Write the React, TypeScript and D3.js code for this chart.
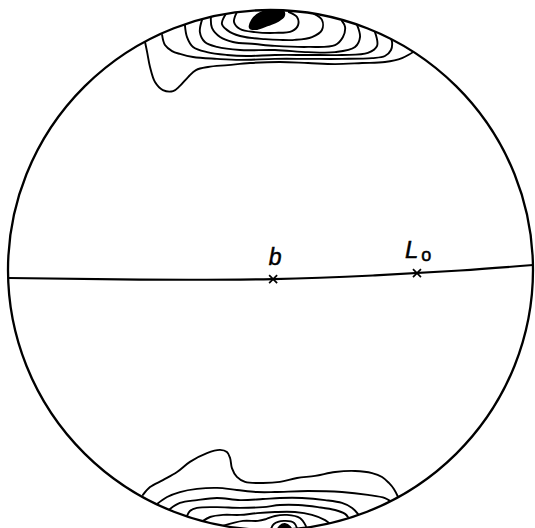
import React from "react";
import * as d3 from "d3";

type Pt = [number, number];

// Net coordinates: unit primitive circle, x toward east, y toward north.

// Density contours of the northern maximum, outermost first.
const northContours: Pt[][] = [
  [[-0.478, 0.877], [-0.47, 0.838], [-0.459, 0.781], [-0.44, 0.723], [-0.41, 0.692], [-0.371, 0.688], [-0.345, 0.708], [-0.314, 0.742], [-0.284, 0.769], [-0.238, 0.781], [-0.162, 0.788], [-0.078, 0.796], [0.036, 0.8], [0.143, 0.796], [0.246, 0.792], [0.349, 0.796], [0.436, 0.8], [0.501, 0.815], [0.543, 0.838]],
  [[-0.413, 0.904], [-0.402, 0.865], [-0.375, 0.842], [-0.345, 0.831], [-0.295, 0.819], [-0.204, 0.812], [-0.116, 0.808], [0.017, 0.812], [0.143, 0.812], [0.272, 0.812], [0.387, 0.815], [0.436, 0.823], [0.459, 0.846], [0.463, 0.877], [0.459, 0.888]],
  [[-0.326, 0.942], [-0.318, 0.896], [-0.295, 0.858], [-0.242, 0.838], [-0.166, 0.827], [-0.09, 0.823], [0.017, 0.827], [0.143, 0.827], [0.272, 0.827], [0.371, 0.835], [0.406, 0.862], [0.398, 0.915]],
  [[-0.261, 0.962], [-0.269, 0.915], [-0.25, 0.877], [-0.204, 0.858], [-0.116, 0.846], [0.017, 0.846], [0.143, 0.838], [0.246, 0.838], [0.322, 0.858], [0.341, 0.896], [0.33, 0.942]],
  [[-0.227, 0.973], [-0.223, 0.931], [-0.192, 0.896], [-0.143, 0.877], [-0.059, 0.869], [0.017, 0.862], [0.143, 0.858], [0.246, 0.865], [0.276, 0.896], [0.284, 0.935], [0.272, 0.958]],
  [[-0.17, 0.985], [-0.185, 0.946], [-0.154, 0.915], [-0.097, 0.896], [-0.021, 0.888], [0.036, 0.885], [0.093, 0.885], [0.158, 0.896], [0.196, 0.923], [0.196, 0.962], [0.166, 0.985]],
  [[-0.128, 0.992], [-0.139, 0.954], [-0.116, 0.927], [-0.059, 0.915], [0.017, 0.912], [0.082, 0.919], [0.105, 0.942], [0.101, 0.973], [0.07, 0.992]],
];

// Highest-density patch of the northern maximum (filled).
const northMaximum: Pt[] = [
  [-0.078, 0.931], [-0.07, 0.962], [-0.04, 0.988], [0.006, 1.0], [0.048, 0.996], [0.051, 0.977], [0.029, 0.958], [-0.01, 0.942], [-0.051, 0.927],
];

// Density contours of the southern maximum, outermost first.
const southContours: Pt[][] = [
  [[-0.486, -0.865], [-0.459, -0.835], [-0.41, -0.808], [-0.356, -0.777], [-0.307, -0.738], [-0.242, -0.704], [-0.192, -0.692], [-0.166, -0.7], [-0.154, -0.723], [-0.147, -0.762], [-0.128, -0.796], [-0.097, -0.815], [-0.029, -0.819], [0.036, -0.815], [0.101, -0.8], [0.17, -0.792], [0.246, -0.777], [0.322, -0.773], [0.387, -0.781], [0.425, -0.796], [0.451, -0.819], [0.47, -0.842], [0.486, -0.873]],
  [[-0.432, -0.9], [-0.394, -0.873], [-0.345, -0.854], [-0.28, -0.842], [-0.204, -0.838], [-0.128, -0.846], [-0.051, -0.854], [0.017, -0.854], [0.143, -0.85], [0.272, -0.854], [0.371, -0.865], [0.436, -0.877], [0.455, -0.888]],
  [[-0.383, -0.919], [-0.345, -0.896], [-0.28, -0.885], [-0.204, -0.877], [-0.116, -0.885], [-0.029, -0.881], [0.036, -0.877], [0.12, -0.877], [0.208, -0.885], [0.272, -0.896], [0.311, -0.915], [0.333, -0.938]],
  [[-0.318, -0.946], [-0.307, -0.927], [-0.28, -0.915], [-0.204, -0.912], [-0.116, -0.915], [-0.029, -0.912], [0.036, -0.904], [0.105, -0.904], [0.181, -0.912], [0.246, -0.923], [0.284, -0.938], [0.295, -0.95]],
  [[-0.257, -0.965], [-0.23, -0.95], [-0.181, -0.942], [-0.116, -0.942], [-0.051, -0.935], [0.017, -0.931], [0.093, -0.931], [0.158, -0.942], [0.208, -0.962], [0.227, -0.977]],
  [[-0.185, -0.985], [-0.105, -0.965], [-0.048, -0.965], [-0.017, -0.958], [0.017, -0.946], [0.063, -0.942], [0.112, -0.954], [0.135, -0.985]],
  [[-0.002, -1.008], [0.013, -0.977], [0.051, -0.965], [0.09, -0.973], [0.105, -1.008]],
];

// Highest-density patch of the southern maximum (filled).
const southMaximum: Pt[] = [
  [0.025, -1.008], [0.036, -0.985], [0.055, -0.977], [0.074, -0.988], [0.082, -1.008],
];

// Trace of the great circle through b and Lo.
const greatCircle: Pt[] = [
  [-0.996, -0.031], [-0.5, -0.037], [0.01, -0.035], [0.39, -0.021], [0.722, -0.002], [1.0, 0.019],
];

// Plotted axes.
const axisNames = ["b", "L"];
const axisSubscripts = ["", "o"];
const axisPositions: Pt[] = [[0.01, -0.035], [0.558, -0.012]];

export default function App() {
  const width = 535;
  const height = 528;
  const x = d3.scaleLinear().domain([-1, 1]).range([8, 533]);
  const y = d3.scaleLinear().domain([1, -1]).range([10, 530]);

  const trace = d3
    .line<Pt>()
    .x((d) => x(d[0]))
    .y((d) => y(d[1]))
    .curve(d3.curveCatmullRom.alpha(0.5));
  const smooth = d3
    .line<Pt>()
    .x((d) => x(d[0]))
    .y((d) => y(d[1]))
    .curve(d3.curveNatural);
  const patch = d3
    .line<Pt>()
    .x((d) => x(d[0]))
    .y((d) => y(d[1]))
    .curve(d3.curveCatmullRomClosed.alpha(0.5));

  const cx = x(0);
  const cy = y(0);
  const rx = (x(1) - x(-1)) / 2;
  const ry = (y(-1) - y(1)) / 2;

  const contours = [...northContours, ...southContours];
  const font = "Liberation Sans, Arial, sans-serif";

  return (
    <svg
      width={width}
      height={height}
      style={{ position: "absolute", left: 0, top: 0, background: "#fff" }}
    >
      <defs>
        <clipPath id="primitive">
          <ellipse cx={cx} cy={cy} rx={rx} ry={ry} />
        </clipPath>
      </defs>
      <g
        clipPath="url(#primitive)"
        fill="none"
        stroke="#000"
        strokeWidth={1.9}
        strokeLinecap="round"
        strokeLinejoin="round"
      >
        {contours.map((c, i) => (
          <path key={i} d={trace(c) ?? ""} />
        ))}
        <path d={patch(northMaximum) ?? ""} fill="#000" />
        <path d={patch(southMaximum) ?? ""} fill="#000" />
      </g>
      <ellipse cx={cx} cy={cy} rx={rx} ry={ry} fill="none" stroke="#000" strokeWidth={2.3} />
      <path d={smooth(greatCircle) ?? ""} fill="none" stroke="#000" strokeWidth={2.1} />
      {axisPositions.map((p, i) => {
        const px = x(p[0]);
        const py = y(p[1]);
        return (
          <g key={axisNames[i]}>
            <path
              d={`M${px - 4},${py - 4}L${px + 4},${py + 4}M${px - 4},${py + 4}L${px + 4},${py - 4}`}
              stroke="#000"
              strokeWidth={1.7}
            />
            {axisSubscripts[i] === "" ? (
              <text
                x={px + 2}
                y={py - 14}
                textAnchor="middle"
                fontFamily={font}
                fontStyle="italic"
                fontSize={23}
                fill="#000"
                stroke="#000"
                strokeWidth={0.5}
              >
                {axisNames[i]}
              </text>
            ) : (
              <text
                x={px - 12}
                y={py - 15}
                fontFamily={font}
                fontStyle="italic"
                fontSize={24}
                fill="#000"
                stroke="#000"
                strokeWidth={0.5}
              >
                {axisNames[i]}
                <tspan dy={3} dx={3} fontSize={18} fontStyle="normal">
                  {axisSubscripts[i]}
                </tspan>
              </text>
            )}
          </g>
        );
      })}
    </svg>
  );
}
